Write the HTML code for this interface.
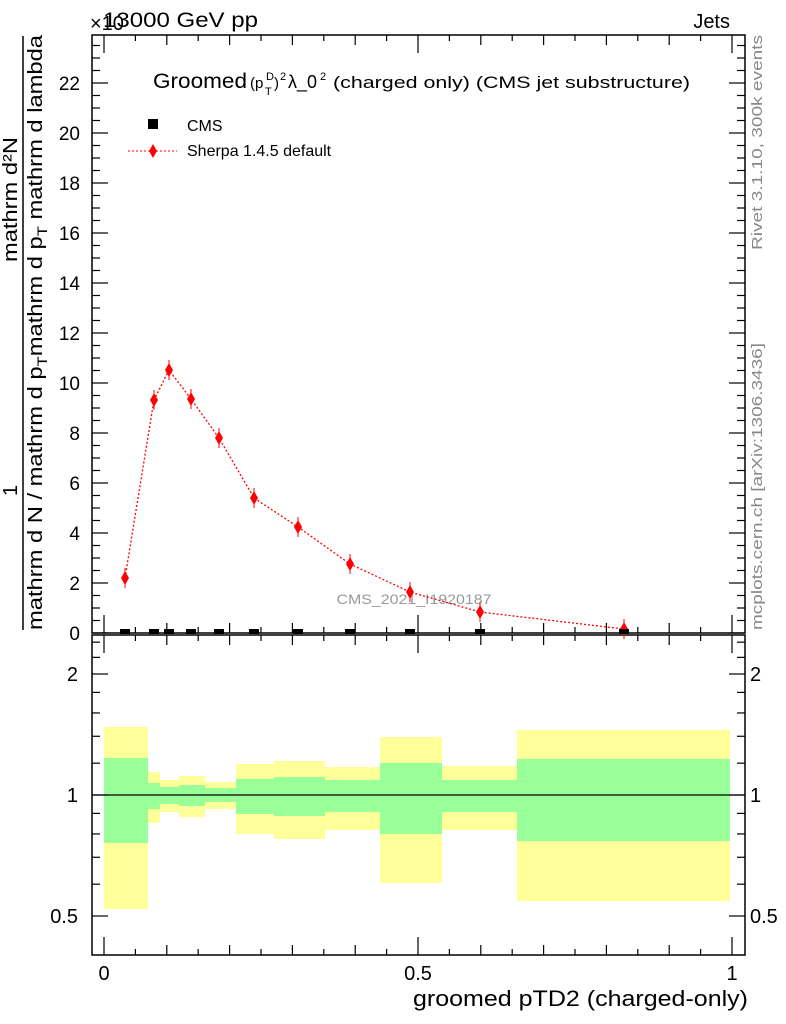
<!DOCTYPE html>
<html><head><meta charset="utf-8"><style>body{margin:0;background:#fff}svg{display:block}text{font-family:"Liberation Sans",sans-serif}</style></head><body>
<svg width="786" height="1024" viewBox="0 0 786 1024" xmlns="http://www.w3.org/2000/svg">
<g id="bands">
<rect x="104" y="727" width="44" height="182" fill="#ffff99"/><rect x="104" y="758" width="44" height="85" fill="#99ff99"/>
<rect x="148" y="772" width="12" height="51" fill="#ffff99"/><rect x="148" y="783" width="12" height="26" fill="#99ff99"/>
<rect x="160" y="780" width="19" height="32" fill="#ffff99"/><rect x="160" y="787" width="19" height="17" fill="#99ff99"/>
<rect x="179" y="776" width="26" height="41" fill="#ffff99"/><rect x="179" y="785" width="26" height="21" fill="#99ff99"/>
<rect x="205" y="782" width="31" height="27" fill="#ffff99"/><rect x="205" y="788" width="31" height="14" fill="#99ff99"/>
<rect x="236" y="764" width="38" height="70" fill="#ffff99"/><rect x="236" y="779" width="38" height="35" fill="#99ff99"/>
<rect x="274" y="761" width="51" height="78" fill="#ffff99"/><rect x="274" y="777" width="51" height="39" fill="#99ff99"/>
<rect x="325" y="767" width="55" height="63" fill="#ffff99"/><rect x="325" y="780" width="55" height="32" fill="#99ff99"/>
<rect x="380" y="737" width="62" height="146" fill="#ffff99"/><rect x="380" y="763" width="62" height="71" fill="#99ff99"/>
<rect x="442" y="766" width="75" height="64" fill="#ffff99"/><rect x="442" y="780" width="75" height="32" fill="#99ff99"/>
<rect x="517" y="730" width="213" height="171" fill="#ffff99"/><rect x="517" y="759" width="213" height="82" fill="#99ff99"/>
</g>
<line x1="92" y1="795" x2="745" y2="795" stroke="#000" stroke-width="1.2"/>
<g fill="none" stroke="#000" stroke-width="1.5">
<rect x="92" y="35" width="653" height="598"/>
<rect x="92" y="635" width="653" height="320"/>
</g>
<g stroke="#000" stroke-width="1.2" id="ticks"></g>
<text x="414" y="604" fill="#999" font-size="14" text-anchor="middle" textLength="155" lengthAdjust="spacingAndGlyphs">CMS_2021_I1920187</text>
<polyline fill="none" stroke="#f00" stroke-width="1.3" stroke-dasharray="2,2" points="125,578 154,400 169,370 191,399 219,438 254,498 298,527 350,564 410,592 480,612 624,629"/>
<g id="pts"></g>
<text x="90" y="30" font-size="20">×10</text><text x="103" y="27" font-size="21" textLength="155" lengthAdjust="spacingAndGlyphs">13000 GeV pp</text>
<text x="730" y="28" font-size="20" text-anchor="end">Jets</text>
<text x="153" y="88" font-size="21" textLength="94" lengthAdjust="spacingAndGlyphs">Groomed</text><text x="250" y="88" font-size="15">(p</text><text x="266" y="80" font-size="11">D</text><text x="265" y="95" font-size="11">T</text><text x="274" y="88" font-size="15">)</text><text x="280" y="80" font-size="11">2</text><text x="288" y="88" font-size="18">λ_0</text><text x="320" y="80" font-size="11">2</text><text x="333" y="88" font-size="17" textLength="357" lengthAdjust="spacingAndGlyphs">(charged only) (CMS jet substructure)</text>
<rect x="148" y="119" width="10" height="10" fill="#000"/><text x="187" y="131" font-size="16">CMS</text>
<line x1="128" y1="151" x2="177" y2="151" stroke="#f00" stroke-dasharray="2,2"/><polygon points="153,144 157,151 153,158 149,151" fill="#f00"/>
<text x="187" y="156" font-size="16">Sherpa 1.4.5 default</text>
<g font-size="19" text-anchor="end" id="ylab"></g>
<text x="26" y="714" font-size="14" text-anchor="middle" transform="rotate(-90 33 795)">Ratio to CMS</text>
<g font-size="20" text-anchor="middle">
<text x="104" y="980">0</text><text x="418" y="980">0.5</text><text x="732" y="980">1</text></g>
<text x="748" y="1006" font-size="22" text-anchor="end" textLength="335" lengthAdjust="spacingAndGlyphs">groomed pTD2 (charged-only)</text>
<text transform="translate(762 250) rotate(-90)" font-size="15" fill="#888" textLength="215" lengthAdjust="spacingAndGlyphs">Rivet 3.1.10,  300k events</text>
<text transform="translate(762 630) rotate(-90)" font-size="15" fill="#888" textLength="287" lengthAdjust="spacingAndGlyphs">mcplots.cern.ch [arXiv:1306.3436]</text>
<g font-size="20">
<text transform="translate(17 262) rotate(-90)" textLength="125" lengthAdjust="spacingAndGlyphs">mathrm d²N</text>
<line x1="23" y1="36" x2="23" y2="630" stroke="#000" stroke-width="1.5"/>
<text transform="translate(17 496) rotate(-90)">1</text>
<text transform="translate(42 630) rotate(-90)" textLength="595" lengthAdjust="spacingAndGlyphs">mathrm d N / mathrm d p<tspan font-size="14" dy="5">T</tspan><tspan dy="-5">mathrm d p</tspan><tspan font-size="14" dy="5">T</tspan><tspan dy="-5"> mathrm d lambda</tspan></text>
</g>
<script>
var ns="http://www.w3.org/2000/svg",t=document.getElementById('ticks');
function L(a,b,c,d){var l=document.createElementNS(ns,'line');l.setAttribute('x1',a);l.setAttribute('y1',b);l.setAttribute('x2',c);l.setAttribute('y2',d);t.appendChild(l);}
for(var v=0;v<=24;v+=0.5){var y=633-25*v;if(y<35)break;var len=(v%2==0)?16:8;L(92,y,92+len,y);L(745,y,745-len,y);}
var yl=document.getElementById('ylab');
for(var v=0;v<=22;v+=2){var e=document.createElementNS(ns,'text');e.setAttribute('x',80);e.setAttribute('y',633-25*v+7);e.textContent=v;yl.appendChild(e);}
for(var i=0;i<=20;i++){var x=104+628*0.05*i;var len=(i%10==0)?18:(i%2==0?10:6);L(x,633,x,633-len);L(x,35,x,35+len);L(x,955,x,955-len);L(x,635,x,635+len);}
var rs=[0.4,0.5,0.6,0.7,0.8,0.9,1,1.2,1.4,1.6,1.8,2,2.2,2.4];
for(var r of rs){var y=795-121*Math.log2(r);if(y<637||y>953)continue;var len=(r==0.5||r==1||r==2)?16:8;L(92,y,92+len,y);L(745,y,745-len,y);}
[[2,674],[1,795],[0.5,916]].forEach(function(p){var a=document.createElementNS(ns,'text');a.setAttribute('x',78);a.setAttribute('y',p[1]+7);a.setAttribute('font-size','20');a.setAttribute('text-anchor','end');a.textContent=p[0];document.querySelector('svg').appendChild(a);var b=a.cloneNode(true);b.setAttribute('x',750);b.setAttribute('text-anchor','start');document.querySelector('svg').appendChild(b);});
var pts=[[125,578],[154,400],[169,370],[191,399],[219,438],[254,498],[298,527],[350,564],[410,592],[480,612],[624,629]],g=document.getElementById('pts');
pts.forEach(function(p){var q=document.createElementNS(ns,'polygon');q.setAttribute('points',(p[0])+','+(p[1]-7)+' '+(p[0]+4)+','+p[1]+' '+p[0]+','+(p[1]+7)+' '+(p[0]-4)+','+p[1]);q.setAttribute('fill','#f00');g.appendChild(q);
var l=document.createElementNS(ns,'line');l.setAttribute('x1',p[0]);l.setAttribute('x2',p[0]);l.setAttribute('y1',p[1]-10);l.setAttribute('y2',p[1]+10);l.setAttribute('stroke','#f00');g.appendChild(l);
var r=document.createElementNS(ns,'rect');r.setAttribute('x',p[0]-5);r.setAttribute('y',629);r.setAttribute('width',10);r.setAttribute('height',5);r.setAttribute('fill','#000');g.appendChild(r);});
</script>
</svg>
</body></html>
